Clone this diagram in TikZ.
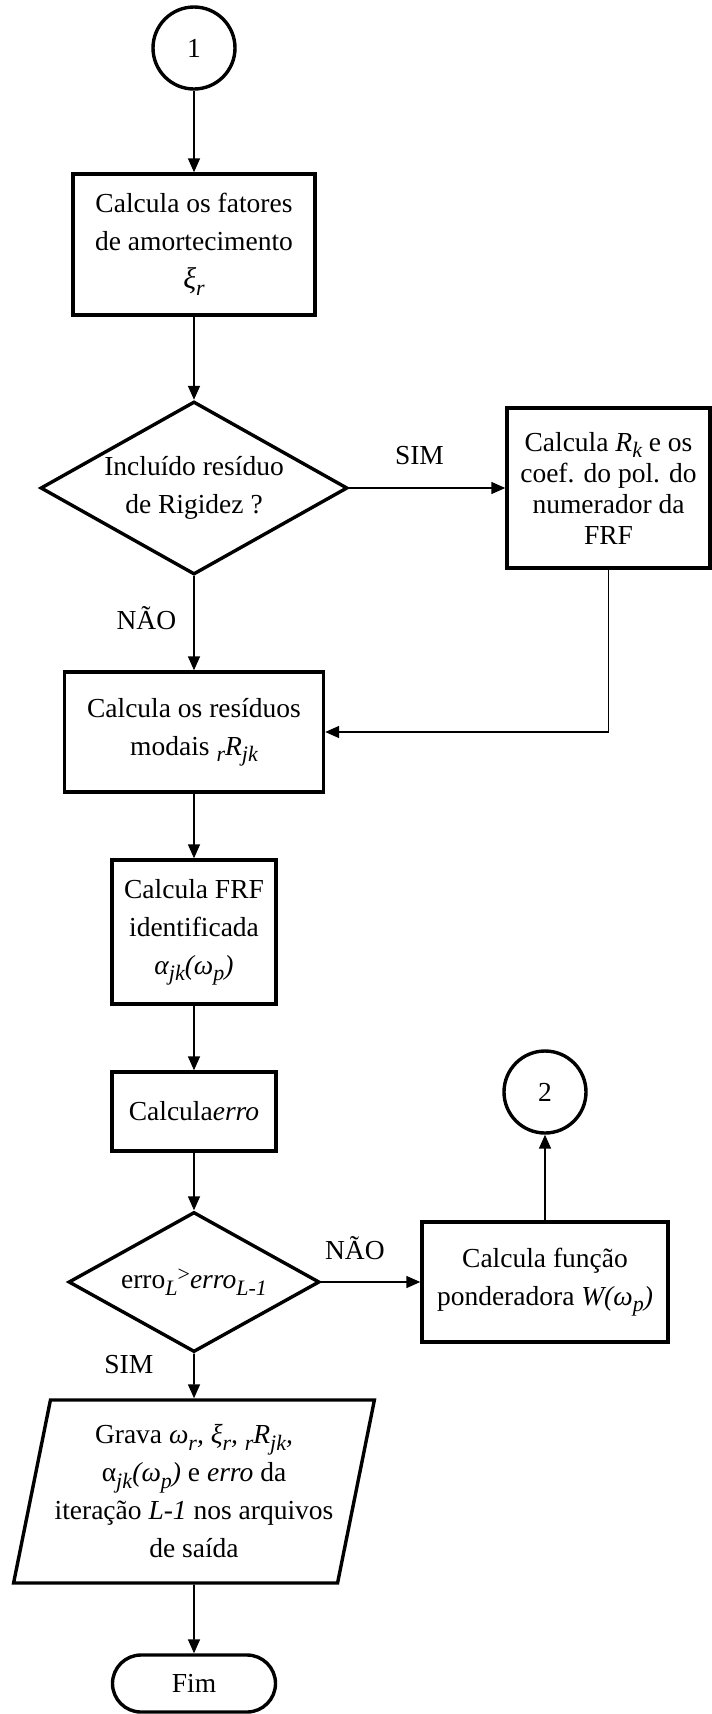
\documentclass[tikz,border=0pt]{standalone}
\usepackage{fontspec}
\setmainfont{Liberation Serif}
\usetikzlibrary{shapes.geometric,shapes.misc,arrows.meta}
\newcommand{\lowidx}[1]{\raisebox{-0.5ex}{\fontsize{11pt}{11pt}\selectfont #1}}
\newcommand{\highidx}[1]{\raisebox{0.6ex}{\fontsize{11pt}{11pt}\selectfont #1}}

\begin{document}
\begin{tikzpicture}[->,>={Triangle[length=7pt,width=6pt]},line width=0.8pt,
		node distance=100pt,
		every node/.style={font=\fontsize{13.75pt}{19pt}\selectfont,align=center},
		main box/.style={rectangle,draw,line width=1.7pt,inner sep=0pt},
		decision node/.style={diamond,draw,line width=1.7pt,aspect=1.8,inner sep=0pt},
		link node/.style={circle,draw,line width=1.7pt,inner sep=0pt,minimum size=41pt},
		io node/.style={trapezium,trapezium left angle=75,trapezium right angle=105,
			trapezium stretches,draw,line width=1.7pt,inner sep=0pt},
		end node/.style={rounded rectangle,draw,line width=1.7pt,inner sep=0pt},
		answer/.style={inner sep=0pt}]

		\useasboundingbox (0,0) rectangle (356pt,-857pt);

		\node[link node] (c1) at (97pt,-24pt) {1};
		\node[main box,minimum width=121pt,minimum height=70.5pt] (fatores) [below of=c1,node distance=98.25pt]
			{Calcula os fatores\\de amortecimento\\{\fontsize{15pt}{19pt}\selectfont\textit{ξ\lowidx{r}}}};
		\node[decision node,minimum width=153.5pt,minimum height=86.5pt] (rigidez) [below of=fatores,node distance=121.75pt]
			{Incluído resíduo\\de Rigidez ?};
		\node[main box,minimum width=101.5pt,minimum height=80pt,font=\fontsize{13.75pt}{15.5pt}\selectfont] (rk) [right of=rigidez,node distance=207.25pt]
			{Calcula \textit{R\lowidx{k}} e os\\coef. do pol. do\\numerador da\\FRF};
		\node[main box,minimum width=129.5pt,minimum height=60pt] (residuos) [below of=rigidez,node distance=122pt]
			{Calcula os resíduos\\modais \textit{\lowidx{r}R\lowidx{jk}}};
		\node[main box,minimum width=82pt,minimum height=72pt] (frf) [below of=residuos,node distance=100pt]
			{Calcula FRF\\identificada\\\textit{α\lowidx{jk}(ω\lowidx{p})}};
		\node[main box,minimum width=82pt,minimum height=39.5pt] (erro) [below of=frf,node distance=89.75pt]
			{Calcula\textit{erro}};
		\node[decision node,minimum width=125.5pt,minimum height=70pt] (teste) [below of=erro,node distance=85.25pt]
			{erro\lowidx{\textit{L}}\highidx{>}\textit{erro\lowidx{L-1}}};
		\node[main box,minimum width=123pt,minimum height=60pt] (peso) [right of=teste,node distance=175.5pt]
			{Calcula função\\ponderadora \textit{W(ω\lowidx{p})}};
		\node[link node] (c2) [above of=peso,node distance=95pt] {2};
		\node[io node,minimum width=180.5pt,minimum height=91.5pt] (grava) [below of=teste,node distance=104.75pt]
			{Grava \textit{ω\lowidx{r}, ξ\lowidx{r}, \lowidx{r}R\lowidx{jk},}\\
			α\lowidx{\textit{jk}}\textit{(ω\lowidx{p})} e \textit{erro} da\\
			iteração \textit{L-1} nos arquivos\\de saída};
		\node[end node,minimum width=81.5pt,minimum height=28.5pt] (fim) [below of=grava,node distance=96pt] {Fim};

		\path[every node/.style={answer,font=\fontsize{13.75pt}{16pt}\selectfont}]
		(c1) edge (fatores)
		(fatores) edge (rigidez)
		(rigidez) edge node [above=11pt,pos=0.45] {SIM} (rk)
		(rigidez) edge node [left=8.5pt,pos=0.45] {NÃO} (residuos)
		(residuos) edge (frf)
		(frf) edge (erro)
		(erro) edge (teste)
		(teste) edge node [above=10.5pt,pos=0.34] {NÃO} (peso)
		(peso) edge (c2)
		(teste) edge node [left=20pt,pos=0.25] {SIM} (grava)
		(grava) edge (fim);
		\draw (rk.south) |- (residuos.east);
\end{tikzpicture}
\end{document}
